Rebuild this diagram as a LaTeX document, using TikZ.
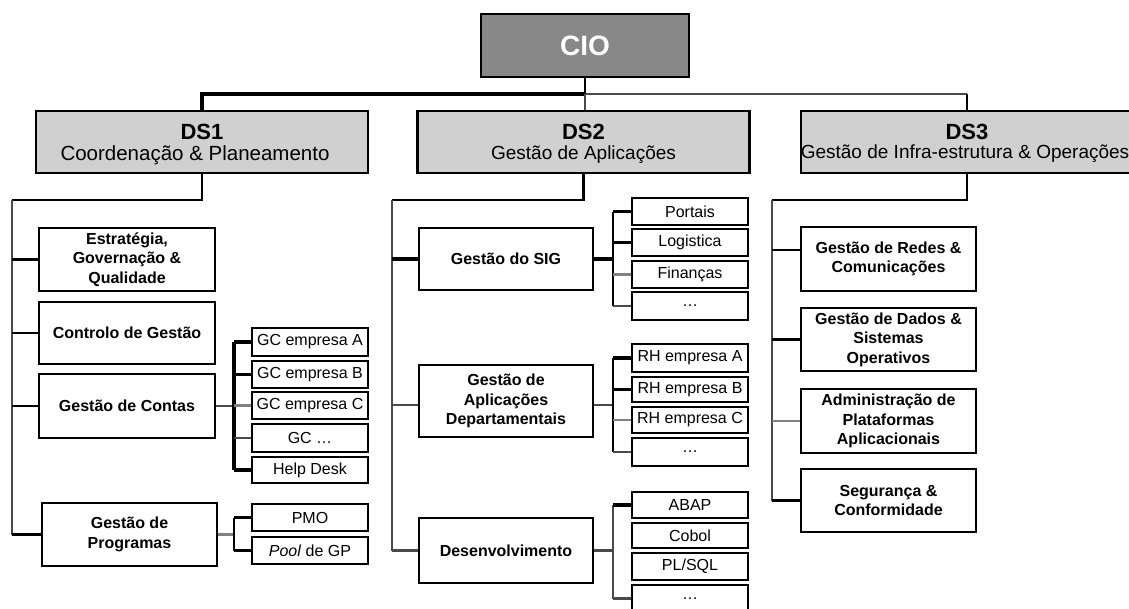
\documentclass[tikz,border=0pt]{standalone}
\usepackage{fontspec}
\setmainfont{Liberation Sans}
\begin{document}
\begin{tikzpicture}[x=1pt,y=-1pt,
  every node/.style={inner sep=1pt, align=center},
  ciobox/.style={draw=black, line width=2.4pt, fill=cioGray, text=white,
    minimum width=208, minimum height=63,
    font=\fontsize{28}{30}\selectfont\bfseries},
  dsbox/.style={draw=black, line width=2.4pt, fill=dsGray,
    minimum width=332, minimum height=62},
  unitbox/.style={draw=black, line width=2.4pt, fill=white,
    minimum width=175, minimum height=63,
    font=\fontsize{16}{19.5}\selectfont\bfseries},
  teambox/.style={draw=black, line width=2.4pt, fill=white,
    minimum width=116, minimum height=27,
    font=\fontsize{16}{19}\selectfont},
  link/.style={line width=2.4pt, draw=black},
  thicklink/.style={line width=3.2pt, draw=black},
  greylink/.style={line width=2.4pt, draw=linkGray},
  darklink/.style={line width=2.4pt, draw=linkDark},
  dshead/.style={font=\fontsize{22}{24}\selectfont\bfseries},
  dssub/.style={font=\fontsize{19}{21}\selectfont}
]
\definecolor{cioGray}{HTML}{888888}
\definecolor{dsGray}{HTML}{D0D0D0}
\definecolor{linkGray}{HTML}{808080}
\definecolor{linkDark}{HTML}{4A4A4A}

\useasboundingbox (0,0) rectangle (1129,608);

% ---- top level ----
\node[ciobox] (cio) at (585,45.5) {CIO};

\node[dsbox] (ds1) at (202,142) {};
\node[dshead] (ds1t) at (202,132) {DS1};
\node[dssub, font=\fontsize{20.5}{22}\selectfont] (ds1s) at (195,155) {Coordenação \& Planeamento};

\node[dsbox] (ds2) at (583.5,142) {};
\node[dshead] (ds2t) at (583.5,132) {DS2};
\node[dssub] (ds2s) at (583.5,155) {Gestão de Aplicações};

\node[dsbox] (ds3) at (967,142) {};
\node[dshead] (ds3t) at (967,132) {DS3};
\node[dssub] (ds3s) at (965,153.5) {Gestão de Infra-estrutura \& Operações};

\coordinate (bar) at (585,94);
\draw[link] (cio.south) -- (bar);
\draw[thicklink] (ds1.north) -- (ds1.north |- bar) -- (bar);
\draw[darklink] (bar) -- (ds3.north |- bar);
\draw[link] (ds3.north |- bar) -- (ds3.north);
\draw[darklink] (bar) -- (bar |- ds2.north);

% ---- DS1: Coordenação & Planeamento ----
\node[unitbox, minimum width=176] (estr) at (127,259.5) {Estratégia,\\Governação \&\\Qualidade};
\node[unitbox, minimum width=176, minimum height=62] (ctrl) at (127,333) {Controlo de Gestão};
\node[unitbox, minimum width=176, minimum height=64] (cont) at (127,406) {Gestão de Contas};
\node[unitbox, minimum width=175] (prog) at (129.5,534.5) {Gestão de\\Programas};

\node[teambox, minimum height=28] (gca) at (310,342) {GC empresa A};
\node[teambox] (gcb) at (310,374.5) {GC empresa B};
\node[teambox] (gcc) at (310,405.5) {GC empresa C};
\node[teambox, minimum height=28] (gcx) at (310,438) {GC …};
\node[teambox, minimum height=26] (help) at (310,470) {Help Desk};
\node[teambox] (pmo) at (310,517.5) {PMO};
\node[teambox] (pool) at (310,550.5) {\textit{Pool} de GP};

\coordinate (j1) at (12,200);
\draw[link] (ds1.south) |- (j1);
\draw[darklink] (j1) -- (j1 |- prog.west);
\draw[thicklink] (j1 |- estr.west) -- (estr.west);
\draw[link] (j1 |- ctrl.west) -- (ctrl.west);
\draw[link] (j1 |- cont.west) -- (cont.west);
\draw[link] (j1 |- prog.west) -- (prog.west);

\coordinate (b1) at (234,406);
\draw[darklink] (cont.east) -- (b1);
\draw[thicklink] (b1 |- gca.west) -- (b1 |- help.west);
\draw[thicklink] (b1 |- gca.west) -- (gca.west);
\draw[link] (b1 |- gcb.west) -- (gcb.west);
\draw[greylink] (b1 |- gcc.west) -- (gcc.west);
\draw[darklink] (b1 |- gcx.west) -- (gcx.west);
\draw[thicklink] (b1 |- help.west) -- (help.west);

\coordinate (b2) at (234,534.5);
\draw[greylink] (prog.east) -- (b2);
\draw[link] (b2 |- pmo.west) -- (b2 |- pool.west);
\draw[link] (b2 |- pmo.west) -- (pmo.west);
\draw[link] (b2 |- pool.west) -- (pool.west);

% ---- DS2: Gestão de Aplicações ----
\node[unitbox, minimum width=174, minimum height=62] (sig) at (506,259) {Gestão do SIG};
\node[unitbox, minimum width=174, minimum height=72] (dep) at (506,401) {Gestão de\\Aplicações\\Departamentais};
\node[unitbox, minimum width=174, minimum height=65] (dev) at (506,550.5) {Desenvolvimento};

\node[teambox] (port) at (690,211.5) {Portais};
\node[teambox] (logi) at (690,242.5) {Logistica};
\node[teambox] (fin) at (690,274.5) {Finanças};
\node[teambox, minimum height=28] (sigx) at (690,306) {…};
\node[teambox, minimum height=28] (rha) at (690,358) {RH empresa A};
\node[teambox, minimum height=25] (rhb) at (690,389.5) {RH empresa B};
\node[teambox, minimum height=26] (rhc) at (690,420) {RH empresa C};
\node[teambox, minimum height=28] (depx) at (690,452) {…};
\node[teambox, minimum height=26] (abap) at (690,505) {ABAP};
\node[teambox, minimum height=25] (cob) at (690,535.5) {Cobol};
\node[teambox] (plsql) at (690,566.5) {PL/SQL};
\node[teambox] (devx) at (690,598.5) {…};

\coordinate (j2) at (392,200);
\draw[link] (ds2.south) |- (j2);
\draw[darklink] (j2) -- (j2 |- dev.west);
\draw[thicklink] (j2 |- sig.west) -- (sig.west);
\draw[darklink] (j2 |- dep.west) ++(0,4) -- ([yshift=-4pt]dep.west);
\draw[darklink] (j2 |- dev.west) -- (dev.west);

\coordinate (b3) at (613,259);
\draw[thicklink] (sig.east) -- (b3);
\draw[link] (b3 |- port.west) -- (b3 |- sigx.west);
\draw[thicklink] (b3 |- port.west) -- (port.west);
\draw[link] (b3 |- logi.west) -- (logi.west);
\draw[greylink] (b3 |- fin.west) -- (fin.west);
\draw[darklink] (b3 |- sigx.west) -- (sigx.west);

\coordinate (b4) at (613,405);
\draw[darklink] ([yshift=-4pt]dep.east) -- (b4);
\draw[link] (b4 |- rha.west) -- (b4 |- depx.west);
\draw[thicklink] (b4 |- rha.west) -- (rha.west);
\draw[link] (b4 |- rhb.west) -- (rhb.west);
\draw[greylink] (b4 |- rhc.west) -- (rhc.west);
\draw[darklink] (b4 |- depx.west) -- (depx.west);

\coordinate (b5) at (613,550.5);
\draw[darklink] (dev.east) -- (b5);
\draw[darklink] (b5 |- abap.west) -- (b5 |- devx.west);
\draw[thicklink] (b5 |- abap.west) -- (abap.west);
\draw[darklink] (b5 |- devx.west) -- (devx.west);

% ---- DS3: Gestão de Infra-estrutura & Operações ----
\node[unitbox, minimum height=64] (rede) at (888.5,259) {Gestão de Redes \&\\Comunicações};
\node[unitbox] (dado) at (888.5,339.5) {Gestão de Dados \&\\Sistemas\\Operativos};
\node[unitbox, minimum height=64] (admi) at (888.5,421) {Administração de\\Plataformas\\Aplicacionais};
\node[unitbox] (segu) at (888.5,500.5) {Segurança \&\\Conformidade};

\coordinate (j3) at (772,200);
\draw[link] (ds3.south) |- (j3);
\draw[darklink] (j3) -- (j3 |- segu.west);
\draw[link] (j3 |- rede.west) ++(0,-9) -- ([yshift=9pt]rede.west);
\draw[link] (j3 |- dado.west) -- (dado.west);
\draw[greylink] (j3 |- admi.west) -- (admi.west);
\draw[link] (j3 |- segu.west) -- (segu.west);
\end{tikzpicture}
\end{document}
